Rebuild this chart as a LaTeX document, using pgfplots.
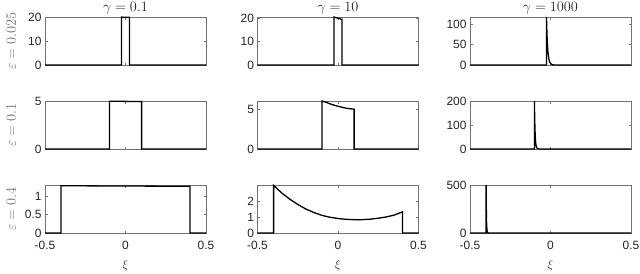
\documentclass[border=0pt]{standalone}
\usepackage{pgfplots}
\pgfplotsset{compat=1.18}
\usepackage{fontspec}
\setmainfont{Liberation Sans}
\definecolor{axgray}{gray}{0.45}
\definecolor{txt}{gray}{0.15}
\pgfplotsset{
  panel/.style={
    scale only axis, width=161bp, height=48bp,
    xmin=-0.5, xmax=0.5, ymin=0,
    xtick={-0.5,0,0.5}, xticklabels={},
    tick align=inside, major tick length=2.5bp,
    axis line style={axgray, line width=0.5pt},
    every tick/.style={axgray, line width=0.5pt},
    tick label style={font=\fontsize{12}{14}\selectfont, text=txt},
    xticklabel style={yshift=-5bp},
    /pgf/number format/assume math mode=true,
    clip=false, anchor=north west,
    title style={font=\fontsize{13.5}{15}\selectfont, text=txt, yshift=-7bp},
    every axis y label/.style={at={(axis description cs:-0.21,0.5)}, rotate=90, anchor=center, font=\fontsize{13.5}{15}\selectfont, text=black!55},
    xlabel style={font=\fontsize{13}{15}\selectfont, text=txt, yshift=-3bp},
  },
  curve/.style={black, line width=1.3pt, no marks, line join=miter},
  bottomrow/.style={xticklabels={-0.5,0,0.5}, xlabel={$\xi$}},
}
\begin{document}
\begin{tikzpicture}
\useasboundingbox (0,0) rectangle (640bp,-274bp);
% Row 1: epsilon = 0.025
\begin{axis}[panel, at={(45bp,-17bp)}, ymax=20.1, ytick={0,10,20}, title={$\gamma = 0.1$}, ylabel={$\varepsilon = 0.025$}]
\addplot[curve] coordinates {(-0.5,0)(-0.025,0)(-0.025,20.05)(0.025,19.95)(0.025,0)(0.5,0)};
\end{axis}
\begin{axis}[panel, at={(257.5bp,-17bp)}, ymax=20.4, ytick={0,10,20}, title={$\gamma = 10$}]
\addplot[curve] coordinates {(-0.5,0)(-0.025,0)(-0.025,20.4)(-0.0125,20.15)(0,19.9)(0.0125,19.65)(0.025,19.4)(0.025,0)(0.5,0)};
\end{axis}
\begin{axis}[panel, at={(470bp,-17bp)}, ymax=117, ytick={0,50,100}, title={$\gamma = 1000$}]
\addplot[curve] coordinates {(-0.5,0)(-0.025,0)(-0.025,117)(-0.023,88.4)(-0.021,66.8)(-0.019,50.5)(-0.017,38.2)(-0.015,28.9)(-0.01,14.3)(-0.005,7.1)(0.005,1.76)(0.015,0.43)(0.025,0.1)(0.025,0)(0.5,0)};
\end{axis}
% Row 2: epsilon = 0.1
\begin{axis}[panel, at={(45bp,-101bp)}, ymax=5.05, ytick={0,5}, ylabel={$\varepsilon = 0.1$}]
\addplot[curve] coordinates {(-0.5,0)(-0.1,0)(-0.1,5.03)(0.1,4.99)(0.1,0)(0.5,0)};
\end{axis}
\begin{axis}[panel, at={(257.5bp,-101bp)}, ymax=6.0, ytick={0,5}]
\addplot[curve] coordinates {(-0.5,0)(-0.1,0)(-0.1,6.0)(-0.075,5.85)(-0.05,5.65)(-0.025,5.48)(0,5.35)(0.025,5.22)(0.05,5.1)(0.075,5.03)(0.1,4.98)(0.1,0)(0.5,0)};
\end{axis}
\begin{axis}[panel, at={(470bp,-101bp)}, ymax=200, ytick={0,100,200}]
\addplot[curve] coordinates {(-0.5,0)(-0.1,0)(-0.1,200)(-0.098,121)(-0.096,73.6)(-0.094,44.6)(-0.092,27)(-0.09,16.4)(-0.085,4.7)(-0.08,1.35)(-0.07,0.11)(0.1,0)(0.5,0)};
\end{axis}
% Row 3: epsilon = 0.4
\begin{axis}[panel, bottomrow, at={(45bp,-185bp)}, ymax=1.3, ytick={0,0.5,1}, ylabel={$\varepsilon = 0.4$}]
\addplot[curve] coordinates {(-0.5,0)(-0.4,0)(-0.4,1.28)(0.4,1.265)(0.4,0)(0.5,0)};
\end{axis}
\begin{axis}[panel, bottomrow, at={(257.5bp,-185bp)}, ymax=3.02, ytick={0,1,2}]
\addplot[curve] coordinates {(-0.5,0)(-0.4,0)(-0.4,3.0)(-0.35,2.52)(-0.3,2.13)(-0.25,1.80)(-0.2,1.51)(-0.15,1.29)(-0.1,1.11)(-0.05,0.99)(0,0.91)(0.05,0.86)(0.1,0.84)(0.15,0.84)(0.2,0.87)(0.25,0.93)(0.3,1.01)(0.35,1.13)(0.4,1.33)(0.4,0)(0.5,0)};
\end{axis}
\begin{axis}[panel, bottomrow, at={(470bp,-185bp)}, ymax=500, ytick={0,500}]
\addplot[curve] coordinates {(-0.5,0)(-0.4,0)(-0.4,500)(-0.399,303)(-0.398,184)(-0.397,112)(-0.396,68)(-0.394,25)(-0.392,9.2)(-0.39,3.4)(-0.385,0.28)(0.5,0)};
\end{axis}
\end{tikzpicture}
\end{document}
